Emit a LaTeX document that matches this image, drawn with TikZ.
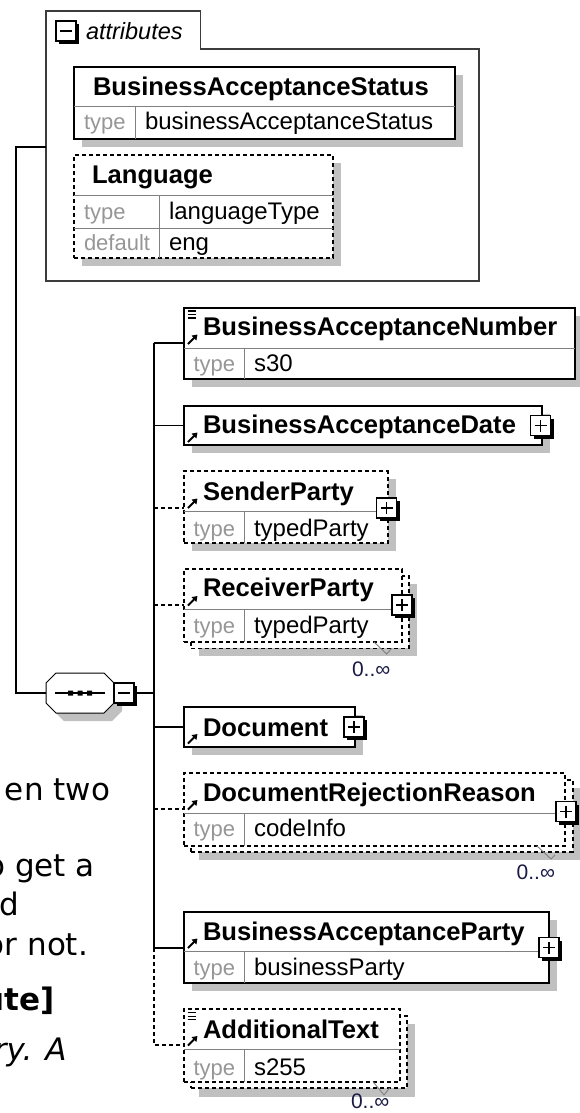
\documentclass[tikz,border=0pt]{standalone}
\usepackage{fontspec}
\setmainfont{Liberation Sans}
\newfontfamily\verd{DejaVu Sans}
\usetikzlibrary{arrows.meta}
\definecolor{shadowgray}{RGB}{192,192,192}
\definecolor{labelgray}{RGB}{150,150,150}
\definecolor{divgray}{RGB}{128,128,128}
\definecolor{occblue}{RGB}{25,25,70}
\definecolor{framegray}{RGB}{60,60,60}
\tikzset{
  every node/.style={inner sep=0pt, outer sep=0pt},
  conn/.style={line width=1.6pt, black},
  dconn/.style={conn, dash pattern=on 4pt off 3pt},
  elbox/.style={draw=black, line width=1.6pt, fill=white},
  delbox/.style={elbox, dash pattern=on 4pt off 3pt},
  shade/.style={fill=shadowgray},
  divline/.style={draw=divgray, line width=1pt},
  ttl/.style={anchor=base west, font=\bfseries\fontsize{25.6}{30}\selectfont},
  lbl/.style={anchor=base west, text=labelgray, font=\fontsize{22}{26}\selectfont},
  val/.style={anchor=base west, font=\fontsize{24}{28}\selectfont},
  occ/.style={anchor=base west, text=occblue, font=\fontsize{21}{25}\selectfont},
  tickline/.style={draw=gray, line width=0.9pt},
  side/.style={anchor=base east, font=\verd\fontsize{31}{36}\selectfont},
  pmbox/.style={draw=black, line width=1.2pt, fill=white, minimum size=20pt},
  pmline/.style={line width=1.2pt, black},
  refarrow/.style={line width=1.8pt, -{Triangle[length=5pt,width=6.5pt]}},
}
\newcommand{\plusbox}[3]{%
  \fill[black] ({#2-10+3},{#3-10+3}) rectangle ({#2+10+3},{#3+10+3});
  \node[pmbox] (#1) at (#2,#3) {};
  \draw[pmline] ({#2-6},#3) -- ({#2+6},#3) (#2,{#3-6}) -- (#2,{#3+6});}
\newcommand{\minusbox}[3]{%
  \fill[black] ({#2-10+3},{#3-10+3}) rectangle ({#2+10+3},{#3+10+3});
  \node[pmbox] (#1) at (#2,#3) {};
  \draw[pmline] ({#2-6},#3) -- ({#2+6},#3);}
\newcommand{\mkbox}[6]{%
  \node[#1, anchor=north west, minimum width={(#5)-(#3)}, minimum height={(#6)-(#4)}] (#2) at (#3,#4) {};}
\newcommand{\refarr}[1]{\draw[refarrow] (188,#1) -- (197.5,{#1-9.5});}
\newcommand{\simpicon}[1]{\draw[line width=1.1pt] (187.5,#1) -- (196,#1) (187.5,{#1+3.5}) -- (196,{#1+3.5}) (187.5,{#1+7}) -- (196,{#1+7});}
\begin{document}
\begin{tikzpicture}[x=1pt,y=-1pt]
\useasboundingbox (0,0) rectangle (579,1113);

% ---------- attributes group ----------
\draw[line width=1.5pt, draw=framegray, fill=white] (46,281) -- (46,11) -- (200.5,11) -- (200.5,49) -- (479,49) -- (479,281) -- cycle;
\coordinate (attrW) at (46,146.7);
\minusbox{attrmin}{66}{31}
\node[anchor=base west, font=\itshape\fontsize{23.5}{27}\selectfont] (attrlbl) at (86,39.3) {attributes};

% BusinessAcceptanceStatus
\fill[shade] (82,75) rectangle (463,147);
\mkbox{elbox}{bas}{74}{67}{455}{139}
\draw[divline] (74,107) -- (455,107) (135,107) -- (135,139);
\node[ttl] (basT) at (93,95.7) {BusinessAcceptanceStatus};
\node[lbl] (basL) at (84,130) {type};
\node[val] (basV) at (145,130) {businessAcceptanceStatus};

% Language
\fill[shade] (82,163) rectangle (341,266);
\mkbox{delbox}{lang}{74}{155}{333}{258}
\draw[divline] (74,195) -- (333,195) (74,228) -- (333,228) (159,195) -- (159,258);
\node[ttl] (langT) at (92,183.3) {Language};
\node[lbl] (langL1) at (84,219) {type};
\node[val] (langV1) at (169,219) {languageType};
\node[lbl] (langL2) at (84,250) {default};
\node[val] (langV2) at (169,250) {eng};

% ---------- left spine ----------
\coordinate (spTop) at (16,146.7);
\coordinate (spBot) at (16,693);
\coordinate (octW) at (46,693);
\draw[conn] (attrW) -- (spTop) -- (spBot) -- (octW);

% ---------- sequence compositor ----------
\fill[shade] (54,681) -- (64,681) -- (112,681) -- (122,691) -- (122,711) -- (112,721) -- (64,721) -- (54,711) -- cycle;
\draw[line width=1pt, fill=white] (46,683) -- (56,673) -- (104,673) -- (114,683) -- (114,703) -- (104,713) -- (56,713) -- (46,703) -- cycle;
\draw[line width=1.2pt] (55,693) -- (105,693);
\fill (68,690.5) rectangle (73,695.5) (77.5,690.5) rectangle (82.5,695.5) (87,690.5) rectangle (92,695.5);
\minusbox{seqmin}{124}{693}

% ---------- trunk and connectors ----------
\coordinate (trTop) at (154,343);
\coordinate (trSeq) at (154,693);
\coordinate (trMid) at (154,948);
\coordinate (trBot) at (154,1045);
\coordinate (banIn) at (184,343);
\coordinate (badIn) at (184,425.5);
\coordinate (spIn) at (184,507.7);
\coordinate (rpIn) at (184,605);
\coordinate (docIn) at (184,727);
\coordinate (drrIn) at (184,809);
\coordinate (bapIn) at (184,948);
\coordinate (atIn) at (184,1045);
\draw[conn] (seqmin.east) -- (trSeq);
\draw[conn] (trTop) -- (trMid);
\draw[dconn] (trMid) -- (trBot) -- (atIn);
\draw[conn] (trTop) -- (banIn);
\draw[conn] (trTop |- badIn) -- (badIn);
\draw[dconn] (trTop |- spIn) -- (spIn);
\draw[dconn] (trTop |- rpIn) -- (rpIn);
\draw[conn] (trTop |- docIn) -- (docIn);
\draw[dconn] (trTop |- drrIn) -- (drrIn);
\draw[conn] (trMid) -- (bapIn);

% ---------- BusinessAcceptanceNumber ----------
\fill[shade] (192,316) rectangle (583,387);
\mkbox{elbox}{ban}{184}{308}{575}{379}
\draw[divline] (184,348) -- (575,348) (244.5,348) -- (244.5,379);
\simpicon{311}
\refarr{344}
\node[ttl] (banT) at (203,335) {BusinessAcceptanceNumber};
\node[lbl] (banL) at (193.5,371) {type};
\node[val] (banV) at (254,371) {s30};

% ---------- BusinessAcceptanceDate ----------
\fill[shade] (192,413.7) rectangle (549.7,453);
\mkbox{elbox}{bad}{184}{405.7}{541.7}{445}
\refarr{442}
\node[ttl] (badT) at (203,433.3) {BusinessAcceptanceDate};
\plusbox{badP}{540.5}{425.5}

% ---------- SenderParty ----------
\fill[shade] (192,479) rectangle (395.7,551);
\mkbox{delbox}{sp}{184}{471}{387.7}{543}
\draw[divline] (184,511.7) -- (387.7,511.7) (244.5,511.7) -- (244.5,543);
\refarr{508}
\node[ttl] (spT) at (203,500) {SenderParty};
\node[lbl] (spL) at (193.5,536.7) {type};
\node[val] (spV) at (254,536.7) {typedParty};
\plusbox{spP}{386.5}{508}

% ---------- ReceiverParty ----------
\fill[shade] (199,584) rectangle (417,656);
\mkbox{delbox}{rpB}{191}{576}{409}{648.3}
\mkbox{delbox}{rp}{184}{569}{402}{641.7}
\draw[divline] (184,609) -- (402,609) (244.5,609) -- (244.5,641.7);
\refarr{605.5}
\node[ttl] (rpT) at (203,596.7) {ReceiverParty};
\node[lbl] (rpL) at (193.5,633) {type};
\node[val] (rpV) at (254,633) {typedParty};
\plusbox{rpP}{402}{605}
\draw[tickline] (374,642) -- (386.7,654) -- (391.7,648.3);
\node[occ] (rpO) at (352,676.7) {0..∞};

% ---------- Document ----------
\fill[shade] (192,715) rectangle (363,754.7);
\mkbox{elbox}{doc}{184}{707}{355}{746.7}
\refarr{743.5}
\node[ttl] (docT) at (203,736) {Document};
\plusbox{docP}{354}{727}

% ---------- DocumentRejectionReason ----------
\fill[shade] (199,788) rectangle (580.7,860);
\mkbox{delbox}{drrB}{191}{780}{572.7}{851.7}
\mkbox{delbox}{drr}{184}{773}{565}{845.7}
\draw[divline] (184,813) -- (565,813) (244.5,813) -- (244.5,845.7);
\refarr{809.5}
\node[ttl] (drrT) at (203,801.7) {DocumentRejectionReason};
\node[lbl] (drrL) at (193.5,836.7) {type};
\node[val] (drrV) at (254,836.7) {codeInfo};
\plusbox{drrP}{566}{811.5}
\draw[tickline] (536.7,845.7) -- (551,859) -- (555,855);
\node[occ] (drrO) at (516.7,879) {0..∞};

% ---------- BusinessAcceptanceParty ----------
\fill[shade] (192,919.7) rectangle (557,991);
\mkbox{elbox}{bap}{184}{911.7}{549}{983}
\draw[divline] (184,951.7) -- (549,951.7) (244.5,951.7) -- (244.5,983);
\refarr{948}
\node[ttl] (bapT) at (203,940) {BusinessAcceptanceParty};
\node[lbl] (bapL) at (193.5,975) {type};
\node[val] (bapV) at (254,975) {businessParty};
\plusbox{bapP}{549}{947.5}

% ---------- AdditionalText ----------
\fill[shade] (199,1024) rectangle (415,1096.7);
\mkbox{delbox}{atB}{191}{1016}{407}{1088}
\mkbox{delbox}{at}{184}{1009}{400}{1081.7}
\draw[divline] (184,1049) -- (400,1049) (244.5,1049) -- (244.5,1081.7);
\simpicon{1012.7}
\refarr{1045.5}
\node[ttl] (atT) at (203,1038.3) {AdditionalText};
\node[lbl] (atL) at (193.5,1075) {type};
\node[val] (atV) at (254,1075) {s255};
\draw[tickline] (373,1081.7) -- (384,1095) -- (389.6,1088);
\node[occ] (atO) at (351,1108) {0..∞};

% ---------- side text (cut at the left edge in the source) ----------
\node[side] (s1) at (110,800) {en two};
\node[side] (s2) at (95,876.7) {o get a};
\node[side] (s3) at (19,915) {d};
\node[side] (s4) at (88,955) {or not.};
\node[side, font=\verd\bfseries\fontsize{31}{36}\selectfont] (s5) at (55,1010) {ute]};
\node[side, font=\verd\itshape\fontsize{31}{36}\selectfont] (s6) at (66.7,1060) {ry. A};
\end{tikzpicture}
\end{document}
